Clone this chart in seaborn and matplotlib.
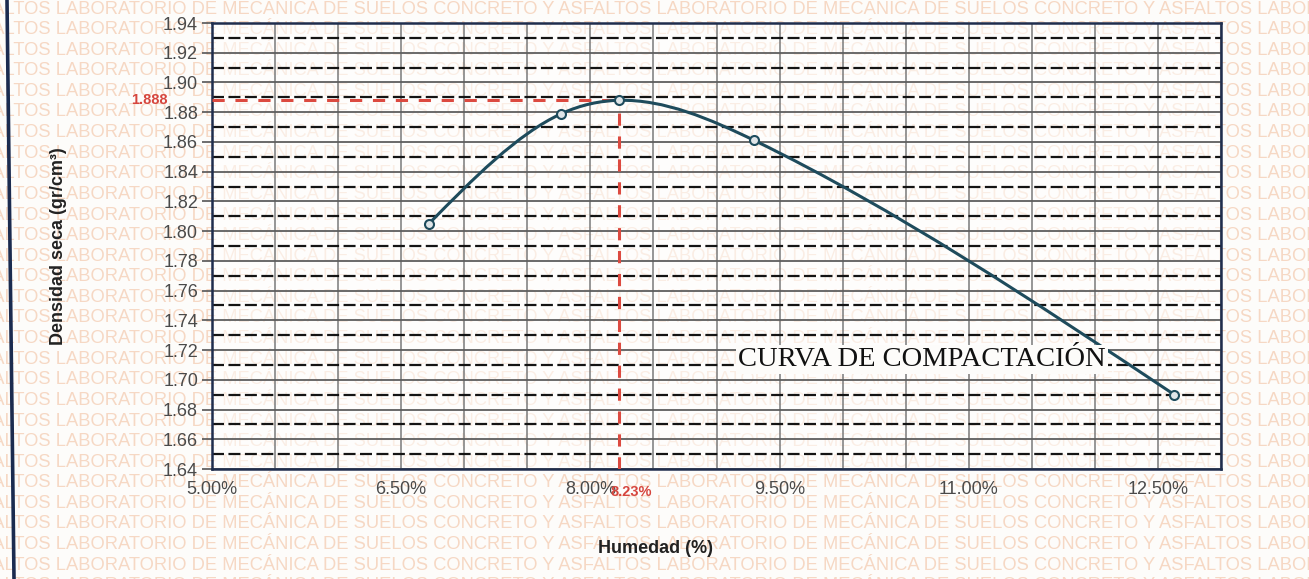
import numpy as np
import pandas as pd
import matplotlib
matplotlib.use("Agg")
import matplotlib.pyplot as plt
import seaborn as sns
from matplotlib.path import Path
from matplotlib.patches import PathPatch
from matplotlib.lines import Line2D
from matplotlib.ticker import FixedLocator, MultipleLocator

# Ensayo Proctor: humedad (%) vs densidad seca (gr/cm3)
humedad = [6.72, 7.77, 8.23, 9.30, 12.63]
densidad = [1.805, 1.879, 1.888, 1.861, 1.690]

# Óptimo contenido de humedad y máxima densidad seca
humedad_optima = 8.23
densidad_maxima = 1.888

x_ticks = [5.0, 6.5, 8.0, 9.5, 11.0, 12.5]
x_tick_labels = ["5.00%", "6.50%", "8.00%", "9.50%", "11.00%", "12.50%"]
y_ticks = [1.64, 1.66, 1.68, 1.70, 1.72, 1.74, 1.76, 1.78, 1.80,
           1.82, 1.84, 1.86, 1.88, 1.90, 1.92, 1.94]
y_tick_labels = ["1.64", "1.66", "1.68", "1.70", "1.72", "1.74", "1.76", "1.78",
                 "1.80", "1.82", "1.84", "1.86", "1.88", "1.90", "1.92", "1.94"]
y_dashed = [1.65, 1.67, 1.69, 1.71, 1.73, 1.75, 1.77, 1.79,
            1.81, 1.83, 1.85, 1.87, 1.89, 1.91, 1.93]

titulo_curva = "CURVA DE COMPACTACIÓN"
marca_agua = "LABORATORIO DE MECÁNICA DE SUELOS CONCRETO Y ASFALTOS "

sns.set_theme(style="white")
plt.rcParams["font.family"] = ["Liberation Sans", "DejaVu Sans"]

W, H = 1309, 579
BG = "#fdfcfa"
fig = plt.figure(figsize=(W / 100, H / 100), dpi=100)
fig.patch.set_facecolor(BG)

# page watermark
for k in range(29):
    ypix = 9 + k * 20.6
    fig.text(-545 / W, 1 - ypix / H, marca_agua * 4, color="#f6d8c4",
             fontsize=13.2, va="center", ha="left", zorder=-5)

# page border on the left
fig.add_artist(Line2D([7 / W, 14 / W], [1, 0], transform=fig.transFigure,
                      color="#1b2b4f", lw=2.6))

ax = fig.add_axes([212 / W, 1 - 469 / H, (1221 - 212) / W, (469 - 23) / H])
ax.set_facecolor((1, 1, 1, 0.55))

df = pd.DataFrame({"humedad": humedad, "densidad": densidad})

# natural cubic spline through the points, drawn as cubic Bezier segments
xs = df["humedad"].to_numpy()
ys = df["densidad"].to_numpy()
n = len(xs)
h = np.diff(xs)
d = np.diff(ys) / h
A = np.zeros((n, n))
r = np.zeros(n)
A[0, 0] = A[-1, -1] = 1.0
for i in range(1, n - 1):
    A[i, i - 1] = h[i - 1]
    A[i, i] = 2 * (h[i - 1] + h[i])
    A[i, i + 1] = h[i]
    r[i] = 6 * (d[i] - d[i - 1])
M = np.linalg.solve(A, r)
m = np.empty(n)
m[:-1] = d - h * (2 * M[:-1] + M[1:]) / 6
m[-1] = d[-1] + h[-1] * (M[-2] + 2 * M[-1]) / 6
verts = [(xs[0], ys[0])]
codes = [Path.MOVETO]
for i in range(n - 1):
    verts += [(xs[i] + h[i] / 3, ys[i] + m[i] * h[i] / 3),
              (xs[i + 1] - h[i] / 3, ys[i + 1] - m[i + 1] * h[i] / 3),
              (xs[i + 1], ys[i + 1])]
    codes += [Path.CURVE4] * 3
ax.add_patch(PathPatch(Path(verts, codes), facecolor="none",
                       edgecolor="#1e4b5c", lw=2.2, zorder=4))

sns.scatterplot(data=df, x="humedad", y="densidad", ax=ax, marker="o", s=42,
                facecolor="#dfe5e8", edgecolor="#1e4b5c", linewidth=1.5,
                zorder=5, legend=False)

# optimum guide lines
ax.hlines(densidad_maxima, 5.0, humedad_optima, colors="#dc4a40", lw=2.2,
          linestyles=(0, (4, 3.5)), zorder=3)
ax.vlines(humedad_optima, 1.64, densidad_maxima, colors="#dc4a40", lw=2.2,
          linestyles=(0, (4, 3.5)), zorder=3)

ax.set_xlim(5.0, 13.0)
ax.set_ylim(1.64, 1.94)
ax.set_xticks(x_ticks)
ax.set_xticklabels(x_tick_labels)
ax.set_yticks(y_ticks)
ax.set_yticklabels(y_tick_labels)
ax.xaxis.set_minor_locator(MultipleLocator(0.5))
ax.yaxis.set_minor_locator(FixedLocator(y_dashed))

ax.set_axisbelow(True)
ax.grid(which="both", axis="x", color="#7a7a7a", lw=1.1)
ax.grid(which="major", axis="y", color="#5e5e5e", lw=1.3)
ax.grid(which="minor", axis="y", color="#141414", lw=1.6, ls=(0, (5.4, 2)))

ax.tick_params(axis="y", which="major", length=7, width=1.2, color="#555555",
               pad=3, labelsize=13, labelcolor="#4a4a4a", left=True)
ax.tick_params(axis="x", which="major", length=0, pad=9, labelsize=13,
               labelcolor="#4a4a4a")
ax.tick_params(which="minor", length=0)

for s in ax.spines.values():
    s.set_visible(True)
    s.set_color("#1f2d4d")
    s.set_linewidth(1.8)

ax.set_xlabel("Humedad (%)", fontsize=13, fontweight="bold", color="#222222")
ax.set_ylabel("Densidad seca (gr/cm³)", fontsize=13, fontweight="bold",
              color="#222222")
ax.xaxis.set_label_coords(0.44, -0.16)
ax.yaxis.set_label_coords(-0.144, 0.5)

# optimum value labels
ax.annotate(f"{densidad_maxima:.3f}", xy=(0, densidad_maxima),
            xycoords=ax.get_yaxis_transform(), xytext=(-44, 0),
            textcoords="offset pixels", ha="right", va="center",
            fontsize=10.5, fontweight="bold", color="#d6453d")
ax.annotate(f"{humedad_optima:.2f}%", xy=(humedad_optima, 0),
            xycoords=ax.get_xaxis_transform(), xytext=(12, -23),
            textcoords="offset pixels", ha="center", va="center",
            fontsize=10.5, fontweight="bold", color="#d6453d")

ax.text(10.63, 1.7135, titulo_curva, family="Liberation Serif", fontsize=20.5,
        ha="center", va="center", color="#111111", zorder=6,
        bbox=dict(facecolor=BG, edgecolor="none", pad=1.5))

fig.savefig("out.png", dpi=100, facecolor=fig.get_facecolor())
